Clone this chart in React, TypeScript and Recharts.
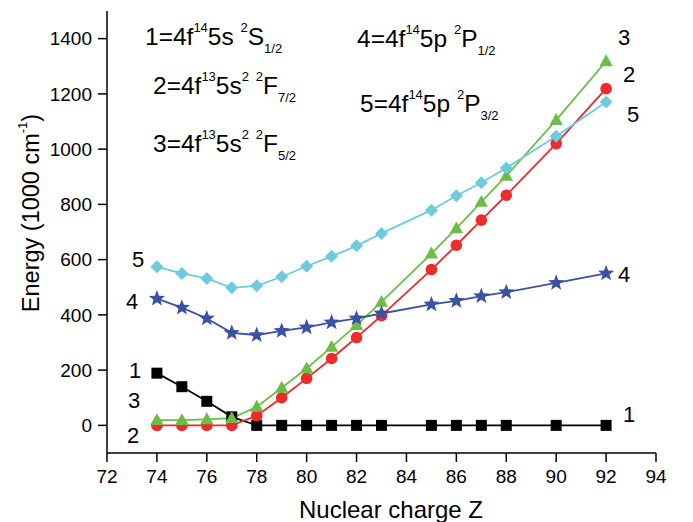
import React from 'react';
import { LineChart, Line, XAxis, YAxis } from 'recharts';

// Nuclear charge Z for each computed point
const zValues = [74, 75, 76, 77, 78, 79, 80, 81, 82, 83, 85, 86, 87, 88, 90, 92];

// Energies (1000 cm-1) per level
const level1 = [189, 140, 87, 31, 0, 0, 0, 0, 0, 0, 0, 0, 0, 0, 0, 0];
const level2 = [0, 0, 0, 0, 35, 100, 170, 242, 318, 397, 564, 652, 743, 833, 1020, 1219];
const level3 = [19, 19, 22, 26, 67, 136, 206, 284, 363, 447, 622, 713, 809, 903, 1105, 1318];
const level4 = [459, 426, 387, 335, 327, 342, 355, 373, 387, 405, 438, 451, 468, 482, 516, 550];
const level5 = [574, 550, 532, 498, 505, 538, 576, 612, 650, 695, 779, 831, 878, 932, 1047, 1171];

const xMajorTicks = [72, 74, 76, 78, 80, 82, 84, 86, 88, 90, 92, 94];
const xMinorTicks = [73, 75, 77, 79, 81, 83, 85, 87, 89, 91, 93];
const yMajorTicks = [0, 200, 400, 600, 800, 1000, 1200, 1400];
const yMinorTicks = [-100, 100, 300, 500, 700, 900, 1100, 1300, 1500];

const data = zValues.map((z, i) => ({
  z,
  l1: level1[i],
  l2: level2[i],
  l3: level3[i],
  l4: level4[i],
  l5: level5[i],
}));

const FONT = '"Liberation Sans", Arial, Helvetica, sans-serif';
const BLACK = '#000000';
const RED = '#ee2a2b';
const GREEN = '#6cbd45';
const BLUE = '#3b51a3';
const CYAN = '#6dcbdc';

const squareDot = (p: any) => {
  if (p.cx == null || p.cy == null) return <g key={p.key} />;
  return <rect key={p.key} x={p.cx - 5.5} y={p.cy - 5.5} width={11} height={11} fill={BLACK} />;
};

const circleDot = (p: any) => {
  if (p.cx == null || p.cy == null) return <g key={p.key} />;
  return <circle key={p.key} cx={p.cx} cy={p.cy} r={5.8} fill={RED} />;
};

const triangleDot = (p: any) => {
  if (p.cx == null || p.cy == null) return <g key={p.key} />;
  const s = 7;
  const pts = `${p.cx},${p.cy - s} ${p.cx - s * 0.95},${p.cy + s * 0.7} ${p.cx + s * 0.95},${p.cy + s * 0.7}`;
  return <polygon key={p.key} points={pts} fill={GREEN} />;
};

const starDot = (p: any) => {
  if (p.cx == null || p.cy == null) return <g key={p.key} />;
  const outer = 8.5;
  const inner = 3.6;
  const pts: string[] = [];
  for (let k = 0; k < 10; k++) {
    const r = k % 2 === 0 ? outer : inner;
    const a = -Math.PI / 2 + (k * Math.PI) / 5;
    pts.push(`${p.cx + r * Math.cos(a)},${p.cy + r * Math.sin(a)}`);
  }
  return <polygon key={p.key} points={pts.join(' ')} fill={BLUE} />;
};

const diamondDot = (p: any) => {
  if (p.cx == null || p.cy == null) return <g key={p.key} />;
  const s = 6.5;
  const pts = `${p.cx},${p.cy - s} ${p.cx + s},${p.cy} ${p.cx},${p.cy + s} ${p.cx - s},${p.cy}`;
  return <polygon key={p.key} points={pts} fill={CYAN} />;
};

const SUP = 13;
const MAIN = 24.5;

// "n=4f^a 5x^b ^2L_j" style term label
const Term = ({ x, y, lead, supA, mid, supB, term, sub }: any) => (
  <text x={x} y={y} fontSize={MAIN} fontFamily={FONT} fill="#000">
    {lead}
    <tspan fontSize={SUP} dy={-13.5}>{supA}</tspan>
    <tspan fontSize={MAIN} dy={13.5}>{mid}</tspan>
    {supB ? (
      <>
        <tspan fontSize={SUP} dy={-13.5}>{supB}</tspan>
        <tspan fontSize={MAIN} dy={13.5}> </tspan>
      </>
    ) : null}
    <tspan fontSize={SUP} dy={-13.5}>2</tspan>
    <tspan fontSize={MAIN} dy={13.5}>{term}</tspan>
    <tspan fontSize={SUP} dy={8}>{sub}</tspan>
  </text>
);

export default function App() {
  return (
    <div style={{ position: 'fixed', left: 0, top: 0, width: 693, height: 522, background: '#fff' }}>
      <LineChart
        width={693}
        height={522}
        data={data}
        margin={{ top: 11, right: 37, left: 0, bottom: 0 }}
      >
        <XAxis
          xAxisId="minor"
          dataKey="z"
          type="number"
          domain={[72, 94]}
          allowDataOverflow
          ticks={xMinorTicks}
          tick={false}
          tickSize={4}
          axisLine={false}
          tickLine={{ stroke: '#000', strokeWidth: 1.5 }}
          height={0}
        />
        <XAxis
          dataKey="z"
          type="number"
          domain={[72, 94]}
          allowDataOverflow
          ticks={xMajorTicks}
          tickSize={9}
          tickMargin={8}
          height={69}
          axisLine={{ stroke: '#000', strokeWidth: 1.5 }}
          tickLine={{ stroke: '#000', strokeWidth: 1.5 }}
          tick={{ fill: '#000', fontSize: 19, fontFamily: FONT }}
        />
        <YAxis
          yAxisId="minor"
          type="number"
          domain={[-100, 1500]}
          allowDataOverflow
          ticks={yMinorTicks}
          tick={false}
          tickSize={4}
          axisLine={false}
          tickLine={{ stroke: '#000', strokeWidth: 1.5 }}
          width={0}
        />
        <YAxis
          type="number"
          domain={[-100, 1500]}
          allowDataOverflow
          ticks={yMajorTicks}
          tickSize={9}
          tickMargin={6}
          width={107}
          axisLine={{ stroke: '#000', strokeWidth: 1.5 }}
          tickLine={{ stroke: '#000', strokeWidth: 1.5 }}
          tick={{ fill: '#000', fontSize: 19, fontFamily: FONT }}
        />
        <Line dataKey="l1" stroke={BLACK} strokeWidth={1.8} dot={squareDot} isAnimationActive={false} />
        <Line dataKey="l2" stroke={RED} strokeWidth={1.8} dot={circleDot} isAnimationActive={false} />
        <Line dataKey="l3" stroke={GREEN} strokeWidth={1.8} dot={triangleDot} isAnimationActive={false} />
        <Line dataKey="l4" stroke={BLUE} strokeWidth={1.8} dot={starDot} isAnimationActive={false} />
        <Line dataKey="l5" stroke={CYAN} strokeWidth={1.8} dot={diamondDot} isAnimationActive={false} />
      </LineChart>
      <svg
        width={693}
        height={522}
        style={{ position: 'absolute', left: 0, top: 0, pointerEvents: 'none' }}
      >
        <Term x={145} y={45} lead="1=4f" supA="14" mid="5s " term="S" sub="1/2" />
        <Term x={153} y={94} lead="2=4f" supA="13" mid="5s" supB="2" term="F" sub="7/2" />
        <Term x={153} y={152} lead="3=4f" supA="13" mid="5s" supB="2" term="F" sub="5/2" />
        <Term x={357} y={47} lead="4=4f" supA="14" mid="5p " term="P" sub="1/2" />
        <Term x={360} y={112} lead="5=4f" supA="14" mid="5p " term="P" sub="3/2" />

        <g fontSize={22} fontFamily={FONT} fill="#000" textAnchor="middle">
          <text x={138} y={267}>5</text>
          <text x={132} y={309}>4</text>
          <text x={135} y={378}>1</text>
          <text x={134} y={408}>3</text>
          <text x={133} y={443}>2</text>
          <text x={624} y={45}>3</text>
          <text x={629} y={82}>2</text>
          <text x={633} y={122}>5</text>
          <text x={624} y={282}>4</text>
          <text x={629} y={422}>1</text>
        </g>

        <text x={391} y={518} fontSize={24} fontFamily={FONT} fill="#000" textAnchor="middle">
          Nuclear charge Z
        </text>
        <text
          x={39}
          y={213}
          transform="rotate(-90, 39, 213)"
          fontSize={23.5}
          fontFamily={FONT}
          fill="#000"
          textAnchor="middle"
        >
          Energy (1000 cm<tspan fontSize={13} dy={-12}>-1</tspan>
          <tspan fontSize={23.5} dy={12}>)</tspan>
        </text>
      </svg>
    </div>
  );
}
